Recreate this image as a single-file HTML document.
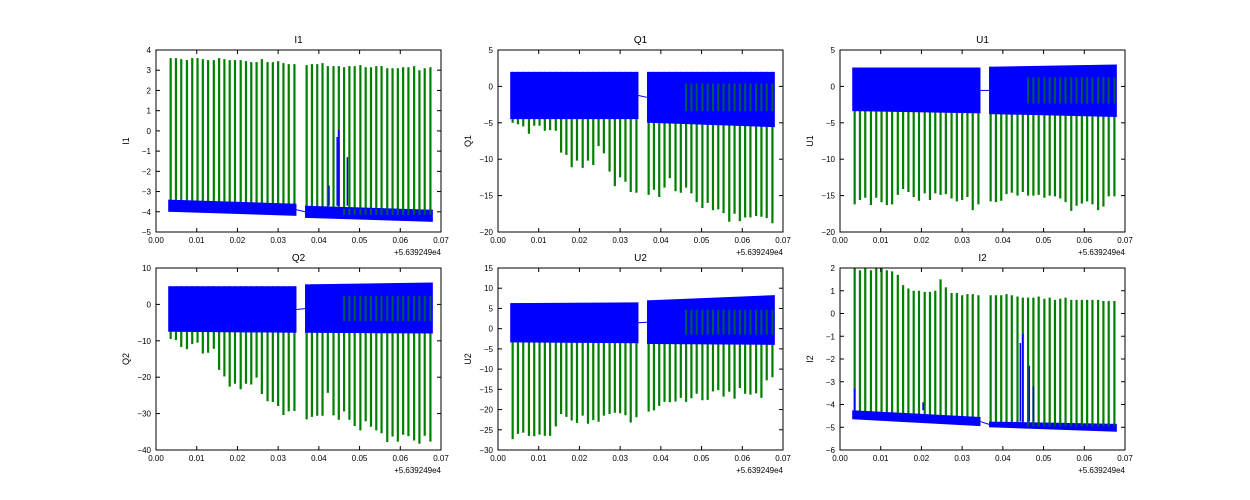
<!DOCTYPE html>
<html><head><meta charset="utf-8">
<style>
html,body{margin:0;padding:0;background:#fff;}
svg{display:block;font-family:"Liberation Sans",sans-serif;}
</style></head>
<body>
<svg id="fig" width="1250" height="500" viewBox="0 0 1250 500" xmlns="http://www.w3.org/2000/svg">
<rect width="1250" height="500" fill="#fff"/>
</svg>
<script>
const pulseTimes = [0.0036,0.0049,0.0062,0.0076,0.0089,0.0102,0.0115,0.0128,0.0142,0.0155,0.0168,0.0181,0.0194,0.0208,0.0221,0.0234,0.0247,0.0260,0.0274,0.0287,0.0300,0.0313,0.0326,0.0340,
0.0370,0.0383,0.0396,0.0409,0.0422,0.0436,0.0449,0.0462,0.0475,0.0488,0.0502,0.0515,0.0528,0.0541,0.0554,0.0568,0.0581,0.0594,0.0607,0.0620,0.0634,0.0647,0.0660,0.0674];
const xTicks = [0,0.01,0.02,0.03,0.04,0.05,0.06,0.07];
const xTickLabels = ["0.00","0.01","0.02","0.03","0.04","0.05","0.06","0.07"];
const bandTimes = [0.003,0.0345,0.0366,0.068];

const I1_peaks = [3.6,3.6,3.55,3.5,3.6,3.6,3.55,3.5,3.5,3.6,3.55,3.5,3.5,3.5,3.45,3.4,3.4,3.55,3.4,3.4,3.45,3.35,3.3,3.3,3.25,3.3,3.3,3.35,3.2,3.2,3.2,3.15,3.2,3.2,3.25,3.15,3.15,3.2,3.2,3.1,3.1,3.1,3.15,3.15,3.2,3.0,3.1,3.15];
const I1_bandTop = [-3.4,-3.6,-3.7,-3.9];
const I1_bandBot = [-4.0,-4.2,-4.3,-4.5];
const I1_spikeT = [0.0445,0.0449,0.0470,0.0425];
const I1_spikeV = [-0.3,0.05,-1.3,-2.7];

const Q1_peaks = [-5,-5.2,-5.5,-6.5,-5.4,-5.4,-6.1,-6,-6.1,-9.1,-9.4,-11.1,-10.2,-11.2,-10.2,-10.8,-8.2,-9.2,-11.7,-13.7,-12.5,-13.1,-14.5,-14.6,-14.9,-14.2,-15.2,-13.9,-12.6,-14.4,-14.6,-13.9,-14.7,-15.9,-16.7,-16,-17,-16.9,-17.4,-18.6,-17.5,-18.5,-18,-18,-17.8,-17.9,-18.1,-18.8];
const Q1_bandTop = [2.0,2.0,2.0,2.0];
const Q1_bandBot = [-4.5,-4.5,-5.0,-5.6];

const U1_peaks = [-16.2,-15.6,-15.3,-16.3,-15.3,-15.9,-16.3,-16.2,-14.9,-14.1,-14.5,-15.2,-15.7,-14.7,-15.6,-14.7,-14.9,-14.8,-15.4,-15.8,-15.6,-15.2,-17,-16.2,-15.8,-15.9,-15.7,-14.8,-14.6,-15,-14.5,-15,-15,-14.9,-15.3,-15,-15.1,-15.4,-15.9,-17.1,-16.4,-16.1,-15.8,-16.2,-17,-16.5,-15.1,-15.1];
const U1_bandTop = [2.6,2.6,2.7,3.0];
const U1_bandBot = [-3.4,-3.7,-3.8,-4.2];

const Q2_peaks = [-9.5,-9.8,-11.7,-12.3,-10.9,-10.5,-13.5,-13.3,-12.2,-18,-19.8,-22.6,-21.8,-23.3,-21.8,-22,-20.1,-24.6,-26.6,-26.8,-27.9,-30.4,-29.4,-29.3,-31.6,-30.9,-30.6,-30.6,-24.3,-30.5,-31.7,-29.4,-31.7,-33.4,-34.6,-32.1,-33.6,-34.6,-35.4,-37.8,-36.3,-37.7,-35.8,-36.2,-37.4,-38.3,-36.1,-37.7];
const Q2_bandTop = [5.0,5.0,5.5,6.0];
const Q2_bandBot = [-7.5,-7.8,-7.8,-8.0];

const U2_peaks = [-27.3,-26,-25.7,-26.5,-26.6,-26.2,-26.5,-26.5,-24.2,-21.1,-21.8,-22.7,-23.3,-21.5,-23.5,-22.6,-23,-21.5,-21.1,-20.8,-20.9,-21.4,-23.2,-21.9,-20.5,-20.2,-19.1,-18.1,-18.2,-18,-17.1,-18.1,-17.2,-16.1,-17.7,-17.6,-15.5,-15.2,-16.8,-15.6,-17.3,-14.7,-16.1,-16.3,-16,-17.1,-12.8,-12];
const U2_bandTop = [6.3,6.5,7.0,8.3];
const U2_bandBot = [-3.4,-3.6,-3.8,-4.0];

const I2_peaks = [2.0,1.9,2.0,1.9,2.0,2.0,1.9,1.85,1.7,1.25,1.1,1.0,1.0,0.95,0.95,1.0,1.5,1.15,0.9,0.9,0.8,0.85,0.85,0.8,0.8,0.8,0.8,0.85,0.8,0.75,0.7,0.7,0.7,0.75,0.65,0.7,0.6,0.65,0.7,0.6,0.6,0.6,0.6,0.6,0.6,0.55,0.55,0.55];
const I2_bandTop = [-4.25,-4.55,-4.75,-4.85];
const I2_bandBot = [-4.65,-4.95,-5.0,-5.2];
const I2_spikeT = [0.0036,0.0443,0.0449,0.0465,0.0475,0.0204];
const I2_spikeV = [-3.3,-1.3,-0.9,-2.3,-3.2,-3.9];

const panels = [
 {name:"I1",x:156,y:50,ymin:-5,ymax:4,step:1,peaks:I1_peaks,bt:I1_bandTop,bb:I1_bandBot,up:true,st:I1_spikeT,sv:I1_spikeV},
 {name:"Q1",x:498,y:50,ymin:-20,ymax:5,step:5,peaks:Q1_peaks,bt:Q1_bandTop,bb:Q1_bandBot,up:false},
 {name:"U1",x:840,y:50,ymin:-20,ymax:5,step:5,peaks:U1_peaks,bt:U1_bandTop,bb:U1_bandBot,up:false},
 {name:"Q2",x:156,y:268,ymin:-40,ymax:10,step:10,peaks:Q2_peaks,bt:Q2_bandTop,bb:Q2_bandBot,up:false},
 {name:"U2",x:498,y:268,ymin:-30,ymax:15,step:5,peaks:U2_peaks,bt:U2_bandTop,bb:U2_bandBot,up:false},
 {name:"I2",x:840,y:268,ymin:-6,ymax:2,step:1,peaks:I2_peaks,bt:I2_bandTop,bb:I2_bandBot,up:true,st:I2_spikeT,sv:I2_spikeV}
];
const W=285,H=182,NS="http://www.w3.org/2000/svg";
const svg=document.getElementById('fig');
function mk(tag,attrs,parent){const e=document.createElementNS(NS,tag);for(const k in attrs)e.setAttribute(k,attrs[k]);(parent||svg).appendChild(e);return e;}

panels.forEach(p=>{
  const g=mk('g',{});
  
  
  const sx=t=>p.x+t/0.07*W;
  const sy=v=>p.y+H-(v-p.ymin)/(p.ymax-p.ymin)*H;
  const clip=mk('clipPath',{id:'c'+p.name},g);
  mk('rect',{x:p.x,y:p.y,width:W,height:H},clip);
  const plot=mk('g',{'clip-path':'url(#c'+p.name+')'},g);
  // green spikes first
  pulseTimes.forEach((t,i)=>{
    const seg=t<0.035?0:1;
    const top=p.bt[2*seg], bot=p.bb[2*seg];
    const base=p.up?bot:top;
    const l=mk('line',{x1:sx(t),x2:sx(t),y1:sy(base),y2:sy(p.peaks[i]),stroke:'#007f00','stroke-width':2.2},plot);
    
    
  });
  // blue band segments on top
  for(let s=0;s<2;s++){
    const t0=bandTimes[2*s],t1=bandTimes[2*s+1];
    const band=mk('polygon',{points:`${sx(t0)},${sy(p.bt[2*s])} ${sx(t1)},${sy(p.bt[2*s+1])} ${sx(t1)},${sy(p.bb[2*s+1])} ${sx(t0)},${sy(p.bb[2*s])}`,fill:'#0000ff'},plot);
    
    
  }
  // green inside band in second segment (faint)
  pulseTimes.forEach((t,i)=>{
    if(t<0.045) return;
    const mid=(p.bt[2]+p.bb[2])/2, h=(p.bt[3]-p.bb[3])*0.25;
    const l=mk('line',{x1:sx(t),x2:sx(t),y1:sy(mid+h),y2:sy(mid-h),stroke:'#007f00','stroke-width':2,opacity:0.7},plot);
    
    
  });
  const gap=mk('line',{x1:sx(bandTimes[1]),y1:sy((p.bt[1]+p.bb[1])/2),x2:sx(bandTimes[2]),y2:sy((p.bt[2]+p.bb[2])/2),stroke:'#0000ff','stroke-width':1},plot);
  
  
  if(p.st){p.st.forEach((t,i)=>{
    const base=p.bt[t<0.035?0:2];
    const l=mk('line',{x1:sx(t),x2:sx(t),y1:sy(base),y2:sy(p.sv[i]),stroke:'#0000ff','stroke-width':1.5},plot);
    
    
  });}
  const fr=mk('rect',{x:p.x,y:p.y,width:W,height:H,fill:'none',stroke:'#000','stroke-width':1},g);
  
  
  xTicks.forEach((t,i)=>{
    const X=sx(t);
    mk('line',{x1:X,x2:X,y1:p.y+H,y2:p.y+H-4,stroke:'#000'},g);
    mk('line',{x1:X,x2:X,y1:p.y,y2:p.y+4,stroke:'#000'},g);
    const tx=mk('text',{x:X,y:p.y+H+11,'font-size':8,'text-anchor':'middle',fill:'#000'},g);
    tx.textContent=xTickLabels[i];
    
    
  });
  for(let v=p.ymin;v<=p.ymax+1e-9;v+=p.step){
    const Y=sy(v);
    mk('line',{x1:p.x,x2:p.x+4,y1:Y,y2:Y,stroke:'#000'},g);
    mk('line',{x1:p.x+W,x2:p.x+W-4,y1:Y,y2:Y,stroke:'#000'},g);
    const tx=mk('text',{x:p.x-5,y:Y+3,'font-size':8,'text-anchor':'end',fill:'#000'},g);
    tx.textContent=String(v).replace('-','\u2212');
    
    
  }
  const off=mk('text',{x:p.x+W,y:p.y+H+23,'font-size':8,'text-anchor':'end',fill:'#000'},g);
  off.textContent='+5.639249e4';
  
  
  const ti=mk('text',{x:p.x+W/2,y:p.y-7,'font-size':10,'text-anchor':'middle',fill:'#000'},g);
  ti.textContent=p.name;
  
  
  const yl=mk('text',{x:0,y:0,'font-size':9,'text-anchor':'middle',fill:'#000',transform:`translate(${p.x-27},${p.y+H/2}) rotate(-90)`},g);
  yl.textContent=p.name;
  
  
});
</script>
</body></html>
